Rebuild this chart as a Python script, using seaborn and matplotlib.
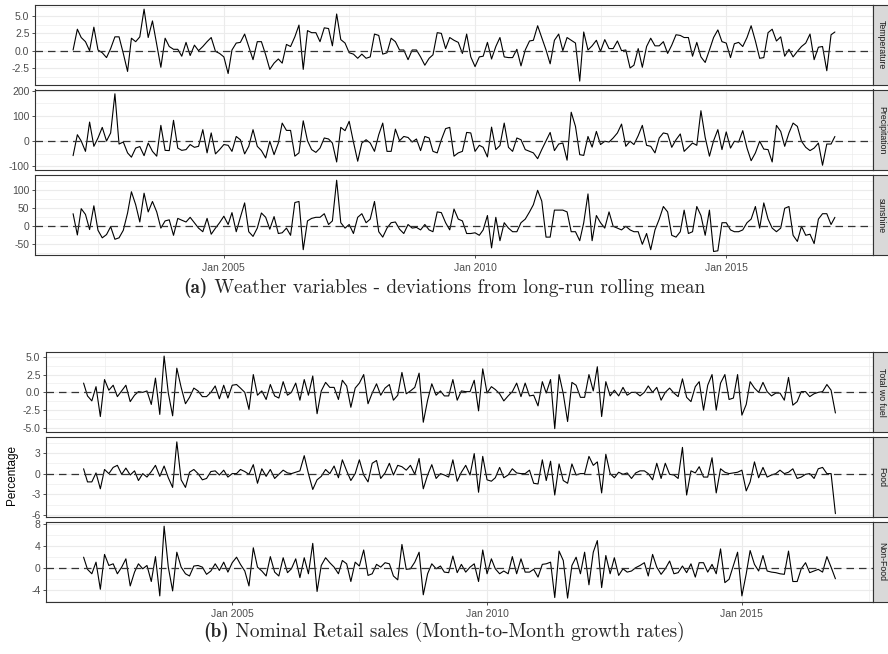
import numpy as np
import pandas as pd
import matplotlib
matplotlib.use("Agg")
import matplotlib.pyplot as plt
import matplotlib.dates as mdates
from matplotlib.ticker import FixedLocator
import seaborn as sns

# --- Weather deviations (monthly, Jan 2002 - Mar 2017) ---
temperature = [
    0.1, 3.1, 1.9, 1.3, 0.0, 3.4, 0.1, -0.3, -1.0, 0.3, 2.0, 2.0,
    -0.4, -3.0, 1.8, 1.3, 2.0, 6.0, 1.9, 4.3, 0.9, -2.4, 1.8, 0.6,
    0.2, 0.2, -0.8, 1.2, -0.7, 0.8, 0.0, 0.6, 1.3, 1.9, -0.1, -0.4,
    -0.9, -3.3, 0.1, 1.1, 1.2, 2.4, 0.6, -1.3, 1.3, 1.3, -0.6, -2.7,
    -1.8, -1.2, -1.8, 0.9, 0.6, 2.0, 3.7, -2.7, 2.9, 2.6, 2.6, 1.3,
    3.3, 3.2, 0.7, 5.3, 1.6, 1.1, -0.3, -0.5, -1.1, -0.5, -1.1, -0.9,
    2.4, 2.2, -0.5, -0.3, 1.8, 1.3, 0.1, 0.1, -1.3, 0.1, 0.1, -0.9,
    -2.1, -1.1, -0.6, 2.6, 2.5, 0.3, 1.9, 1.5, 1.2, -0.4, 2.4, -0.9,
    -2.3, -0.9, -0.8, 1.2, -1.2, 0.6, 1.9, -0.9, -1.0, -1.0, 0.2, -2.2,
    0.1, 1.4, 1.5, 3.6, 1.9, 0.1, -1.9, 1.5, 2.4, 0.0, 1.9, 1.5,
    1.1, -4.4, 2.7, 0.1, 0.7, 1.5, -0.1, 1.6, 0.3, 0.3, 1.4, 0.0,
    0.1, -2.5, -2.1, 0.3, -2.4, 0.6, 1.8, 0.7, 0.7, 1.3, -0.4, 0.8,
    2.3, 2.2, 1.9, 1.9, -0.8, 1.2, -0.9, -1.7, 0.1, 1.9, 3.0, 1.3,
    1.1, -1.0, 1.0, 1.2, 0.6, 1.9, 3.6, 1.4, -1.1, -1.0, 2.6, 3.1,
    1.4, 2.0, -0.8, 0.2, -0.9, -0.1, 0.6, 1.1, 2.4, -1.3, 0.5, 0.6,
    -2.9, 2.3, 2.7,
]

precipitation = [
    -58, 25, 0, -41, 75, -21, 12, 54, 0, 32, 187, -12,
    -4, -47, -64, -28, -22, -58, -8, -41, -60, 62, -37, -38,
    82, -28, -37, -34, -14, -25, -21, 45, -47, 32, -51, -34,
    -14, -17, -41, 18, 5, -51, -21, 45, -21, -38, -67, -1,
    -54, -8, 71, 42, 42, -60, -47, 80, 1, -34, -45, -28,
    12, 8, -8, -83, 54, 41, 78, -4, -80, -8, 5, -8,
    -41, 25, 71, -41, -41, 47, 1, 18, 14, -4, 8, -38,
    18, 12, -41, -47, 5, 49,
    54, -60, -47, -41, 34, 32, -41, -17, -25, -63, 55, -34,
    -18, 71, -25, -41, 12, 5, -34, -41, -47, -70, -34, 1,
    34, -38, -12, -8, -76, 114, 58, -54, -57, 18, -24, 38,
    -14, -1, -4, 12, 32, 67, -21, -1, -14, 21, 62, -17,
    -21, -47, 12, 32, 28, -25, 5, 28, -41, -24, -8, -17,
    120, 14, -60, 1, 45, -34, 36, -28, -1, -4, 41, -28,
    -78, -47, -1, -32, -34, -83, 62, 38, -21, 32, 71, 58,
    -1, -25, -38, -28, -8, -96, -12, -12, 18,
]

sunshine = [
    35, -24, 49, 33, -9, 57, -11, -32, -23, -1, -36, -32,
    -11, 37, 96, 60, 12, 92, 40, 69, 40, -5, 15, 18,
    -25, 22, 17, 12, 25, 10, -5, -15, 22, -22, -5, 10,
    28, 5, 38, -15, 25, 65, -15, -28, -5, 37, 25, -8,
    27, -20, -18, -5, -25, 66, 69, -65, 15, 22, 25, 25,
    35, 5, 15, 128, 10, -5, 5, -20, 25, 35, 10, 20,
    69, -15, -30, -5, 10, 12, -8, -20, 5, -5, -3, -10,
    5, -10, -15, 40, 38, 10, -10, 48, 20, 15, -20, -20,
    -18, -25, -10, 30, -60, 25, -40, 10, -5, -15, -15, 10,
    20, 40, 60, 100, 70, -30, -30, 45, 45, 45, 40, -15,
    -15, -40, 10, 90, -40, 30, 10, -5, 40, 0, -5, -10,
    0, -10, -15, -15, -50, -20, -65, -10, 20, 55, 40, -25,
    -30, -15, 45, -20, -15, 55, 30, -25, 45, -70, -68, 10,
    10, -10, -15, -15, -10, 10, 20, 55, -5, 65, 20, -5,
    -15, -5, 50, 55, -25, -42, 0, -25, -22, -48, 20, 35,
    35, 5, 25,
]

# --- Retail sales growth (monthly, Feb 2002 - Nov 2016) ---
total_wo_fuel = [
    1.3, -0.5, -1.2, 0.8, -3.4, 1.8, 0.3, 1.0, -0.6, 0.2, 1.0, -1.3,
    -0.4, 0.1, 0.0, 0.2, -1.7, 2.0, -3.1, 5.1, -0.1, -3.3, 3.4, 0.7,
    -1.6, -0.7, 0.6, 0.2, -0.6, -0.6, 0.0, 0.9, -0.9, 1.0, -0.8, 1.0,
    1.1, 0.6, 0.0, -2.4, 2.5, -0.4, 0.2, -1.0, 1.1, -0.5, -0.8, 1.5,
    -0.4, 0.0, 1.3, -1.1, 1.8, -0.4, 2.3, -3.0, 0.2, 1.4, 0.7, 0.7,
    -1.0, 1.7, 0.9, -2.1, 0.6, 1.3, 2.5, -1.6, -0.1, 1.2, -0.4, 0.6,
    1.1, -1.1, -0.4, 2.8, -0.2, 0.2, 0.7, 2.7, -4.2, -1.1, 1.2, -0.4,
    0.2, -0.5, -0.5,
    1.8, -1.1, 0.2, 0.1, 0.1, 1.7, -2.6, 3.3, -0.1, 0.8, 0.4, -0.2,
    -1.2, -0.5, 0.1, 1.3, -0.6, 1.3, -0.5, -0.4, -1.9, 1.5, -0.1, 1.8,
    -5.1, 2.5, -0.2, -4.1, 1.4, 1.0, -0.7, -0.7, 2.5, 0.2, 3.6, -3.4,
    1.5, -0.5, 0.3, -0.5, 0.7, -0.4, 0.0, 0.0, -0.5, 0.0, 0.9, 0.0,
    0.7, -1.1, 0.0, 0.6, -0.1, -0.6, 1.9, -0.7, -1.3, 0.8, 1.5, -2.5,
    1.0, 2.5, -2.5, 1.3, 2.5, -1.0, -0.8, 2.5, -3.2, -1.7, 1.5, 0.6,
    0.0, 1.4, 0.1, -0.5, -0.1, -0.1, -1.1, 2.1, -1.8, -1.3, 0.1, 0.1,
    -0.6, -0.2, 0.0, 0.1, 1.1, 0.3, -2.9,
]

food = [
    0.7, -1.2, -1.2, 0.1, -2.2, 0.6, 0.0, 0.9, 1.2, -0.1, 0.8, -0.2,
    0.4, -1.0, 0.0, -0.5, 0.3, 1.2, -0.4, 1.1, -0.6, -2.0, 4.6, -0.9,
    -2.0, 0.2, 0.6, 0.0, -0.9, -0.7, 0.3, 0.4, -0.2, 0.5, -0.5, 0.0,
    0.0, 0.6, 0.3, -0.1, 1.3, -1.4, 0.7, -0.4, 0.6, -0.7, -0.1, 0.5,
    0.1, 0.0, 0.2, 0.4, 2.6, 0.0, -2.3, -0.9, -0.4, 0.6, 0.0, 1.1,
    -0.6, 2.0, 0.4, -1.0, 0.0, 2.0, -0.2, -1.2, 1.5, 1.9, -0.7, 0.1,
    1.5, -0.2, 1.2, 1.0, 0.5, 1.2, -0.1, 2.2, -2.2, -0.2, 1.3, -0.7,
    0.0, -0.2, -0.5,
    2.0, -1.1, 0.2, 1.2, -0.2, 2.9, -2.7, 2.5, -0.9, -1.1, -0.6, 0.9,
    -0.6, -0.2, 0.7, 0.1, 0.0, 0.0, 0.5, -1.4, -1.5, 2.0, -1.0, 1.8,
    -3.1, 1.4, -1.0, -1.4, 1.4, -0.2, 0.0, 0.0, 2.5, 1.2, 1.7, -2.8,
    2.8, 0.0, -0.6, 0.2, -0.1, 0.1, -0.7, 0.1, 0.4, 0.4, 0.0, -0.9,
    1.5, -0.7, 1.5, -0.1, -0.2, -0.7, 3.8, -3.1, 0.4, 0.1, 1.0, -0.5,
    -0.5, 2.3, -2.8, 0.7, 0.2, 0.0, 0.1, 0.2, 0.5, -2.5, -1.2, 1.7,
    -0.6, 0.9, -0.5, -0.2, 0.0, 0.5, 0.0, 0.2, 0.7, -0.7, -0.5, -0.1,
    0.0, -0.7, 0.7, 0.9, 0.0, 0.0, -5.8,
]

non_food = [
    2.0, -0.2, -1.0, 1.1, -3.8, 2.5, 0.5, 0.8, -1.0, 0.2, 1.7, -3.2,
    -0.7, 0.8, -0.1, 0.5, -2.4, 2.1, -5.0, 7.6, 0.2, -4.1, 2.9, 0.2,
    -1.0, -1.4, 0.4, 0.5, 0.2, -1.1, -0.5, 0.8, -0.4, 1.1, -0.7, 1.0,
    2.0, 0.7, -0.5, -3.2, 3.7, 0.2, -0.5, -1.4, 2.1, -0.7, -1.4, 1.9,
    -0.8, -0.1, 1.7, -1.7, 1.9, -1.0, 4.5, -4.2, 0.5, 1.9, 1.0, 0.2,
    -1.0, 1.4, 0.8, -2.4, 1.1, 0.4, 3.3, -1.3, -1.0, 0.7, 0.2, 1.0,
    0.8, -1.4, -2.1, 4.3, -0.2, -0.1, 1.1, 2.9, -4.8, -1.0, 0.8, -0.1,
    0.4, -0.7, -0.8,
    2.2, -0.8, 0.7, -0.7, 0.2, 0.8, -2.4, 3.3, -1.0, 1.7, -0.1, -1.0,
    -0.5, -1.0, 2.1, -1.0, 1.7, -0.7, -0.7, -0.2, -1.6, 0.7, 0.8, 1.1,
    -5.3, 3.1, 1.4, -5.4, 0.5, 2.0, -1.0, 2.9, -3.0, 2.9, 5.0, -3.5,
    2.3, -1.0, 1.9, -1.3, -0.1, -0.7, -0.5, 0.1, 0.5, 1.0, -1.4, 2.5,
    0.2, -1.1, -0.1, 1.3, -1.0, -0.8, 0.4, -0.8, 0.8, -1.6, 1.0, 1.0,
    -0.7, 0.7, -1.0, 3.5, -2.6, -2.0, 0.5, 2.9, -5.0, -1.0, 3.2, 0.7,
    -0.5, 2.3, -0.5, -0.7, -0.8, -1.0, -1.1, 3.1, -2.4, -2.4, -0.1, 1.0,
    -0.8, -0.5, -0.2, -0.7, 2.1, 0.2, -1.9,
]

weather_names = ["Temperature", "Precipitation", "sunshine"]
retail_names = ["Total wo fuel", "Food", "Non-Food"]
weather_ticks = [[5.0, 2.5, 0.0, -2.5], [200, 100, 0, -100], [100, 50, 0, -50]]
weather_ticklabels = [["5.0", "2.5", "0.0", "-2.5"], ["200", "100", "0", "-100"],
                      ["100", "50", "0", "-50"]]
retail_ticks = [[5.0, 2.5, 0.0, -2.5, -5.0], [3, 0, -3, -6], [8, 4, 0, -4]]
retail_ticklabels = [["5.0", "2.5", "0.0", "-2.5", "-5.0"], ["3", "0", "-3", "-6"],
                     ["8", "4", "0", "-4"]]
weather_ylim = [(-4.96, 6.6), (-116, 204), (-79.7, 141.7)]
retail_ylim = [(-5.53, 5.63), (-6.33, 5.35), (-6.05, 8.36)]
caption_a = ("(a)", "Weather variables - deviations from long-run rolling mean")
caption_b = ("(b)", "Nominal Retail sales (Month-to-Month growth rates)")

weather_dates = pd.date_range("2002-01-01", periods=len(temperature), freq="MS")
retail_dates = pd.date_range("2002-02-01", periods=len(total_wo_fuel), freq="MS")

# --- style ---
sns.set_theme(style="white")
plt.rcParams["font.family"] = ["Liberation Sans", "DejaVu Sans"]
plt.rcParams["axes.unicode_minus"] = False

W, H = 888, 654
fig = plt.figure(figsize=(W / 100, H / 100), dpi=100)

BORDER = "#333333"
GRID = "#EBEBEB"


def px_axes(left, right, top, bottom):
    return fig.add_axes([left / W, 1 - bottom / H, (right - left) / W, (bottom - top) / H])


def style_panel(ax, dates, ticks, ticklabels, ylim, bottom_panel):
    d0, d1 = mdates.date2num(dates[0]), mdates.date2num(dates[-1])
    pad = 0.05 * (d1 - d0)
    ax.set_xlim(d0 - pad, d1 + pad)
    ax.set_ylim(*ylim)
    ax.set_yticks(ticks)
    ax.set_yticklabels(ticklabels)
    step = abs(ticks[0] - ticks[1])
    minors = [t + step / 2 for t in ticks] + [ticks[-1] - step / 2]
    ax.yaxis.set_minor_locator(FixedLocator(minors))
    majors_x = [mdates.date2num(pd.Timestamp(f"{y}-01-01")) for y in (2005, 2010, 2015)]
    minors_x = [mdates.date2num(pd.Timestamp(f"{y}-07-01")) for y in (2002, 2007, 2012, 2017)]
    ax.xaxis.set_major_locator(FixedLocator(majors_x))
    ax.xaxis.set_minor_locator(FixedLocator(minors_x))
    ax.xaxis.set_major_formatter(mdates.DateFormatter("%b %Y"))
    ax.grid(which="major", color=GRID, lw=0.8)
    ax.grid(which="minor", color=GRID, lw=0.45)
    ax.set_axisbelow(True)
    for s in ax.spines.values():
        s.set_visible(True)
        s.set_color(BORDER)
        s.set_linewidth(0.8)
    ax.tick_params(which="major", direction="out", length=2.5, width=0.6, color=BORDER,
                   labelsize=7.5, labelcolor="#4D4D4D", pad=1.5)
    ax.tick_params(which="minor", length=0)
    ax.tick_params(axis="y", left=True)
    if bottom_panel:
        ax.tick_params(axis="x", bottom=True, labelbottom=True, pad=3)
    else:
        ax.tick_params(axis="x", bottom=False, labelbottom=False)
    ax.set_xlabel("")
    ax.set_ylabel("")


def add_strip(left, top, bottom, label):
    sax = px_axes(left, left + 17, top, bottom)
    sax.set_facecolor("#D9D9D9")
    sax.set_xticks([])
    sax.set_yticks([])
    for s in sax.spines.values():
        s.set_visible(True)
        s.set_color(BORDER)
        s.set_linewidth(0.8)
    sax.text(0.5, 0.5, label, rotation=-90, ha="center", va="center",
             fontsize=6.3, color="#1A1A1A", transform=sax.transAxes)


def draw_series(ax, dates, values):
    sns.lineplot(x=dates, y=values, ax=ax, color="black", linewidth=0.8)
    ax.axhline(0, color="#333333", lw=0.9, ls=(0, (6, 4)), zorder=3)


# --- panel (a) ---
weather_series = [temperature, precipitation, sunshine]
weather_rows = [(5, 85), (89.5, 170.3), (175.3, 255)]
for i, (name, vals) in enumerate(zip(weather_names, weather_series)):
    top, bottom = weather_rows[i]
    ax = px_axes(35, 873, top, bottom)
    draw_series(ax, weather_dates, vals)
    style_panel(ax, weather_dates, weather_ticks[i], weather_ticklabels[i],
                weather_ylim[i], i == 2)
    add_strip(873, top, bottom, name)

# --- panel (b) ---
retail_series = [total_wo_fuel, food, non_food]
retail_rows = [(352.3, 431.7), (436.7, 517.3), (522, 601.7)]
for i, (name, vals) in enumerate(zip(retail_names, retail_series)):
    top, bottom = retail_rows[i]
    ax = px_axes(46, 873, top, bottom)
    draw_series(ax, retail_dates, vals)
    style_panel(ax, retail_dates, retail_ticks[i], retail_ticklabels[i],
                retail_ylim[i], i == 2)
    add_strip(873, top, bottom, name)

fig.text(12 / W, 1 - 475 / H, "Percentage", rotation=90, ha="center", va="center",
         fontsize=8.5, color="black")

# --- captions: bold tag + roman text ---
fig.canvas.draw()
renderer = fig.canvas.get_renderer()


def caption(tag, rest, y_px):
    y = 1 - y_px / H
    t1 = fig.text(0, y, tag, family="cmb10", fontsize=13.9, va="baseline")
    t2 = fig.text(0, y, " " + rest, family="cmr10", fontsize=13.9, va="baseline")
    w1 = t1.get_window_extent(renderer).width
    w2 = t2.get_window_extent(renderer).width
    x0 = (W - w1 - w2) / 2
    t1.set_x(x0 / W)
    t2.set_x((x0 + w1) / W)


caption(*caption_a, 293)
caption(*caption_b, 637)

fig.savefig("out.png", dpi=100)
